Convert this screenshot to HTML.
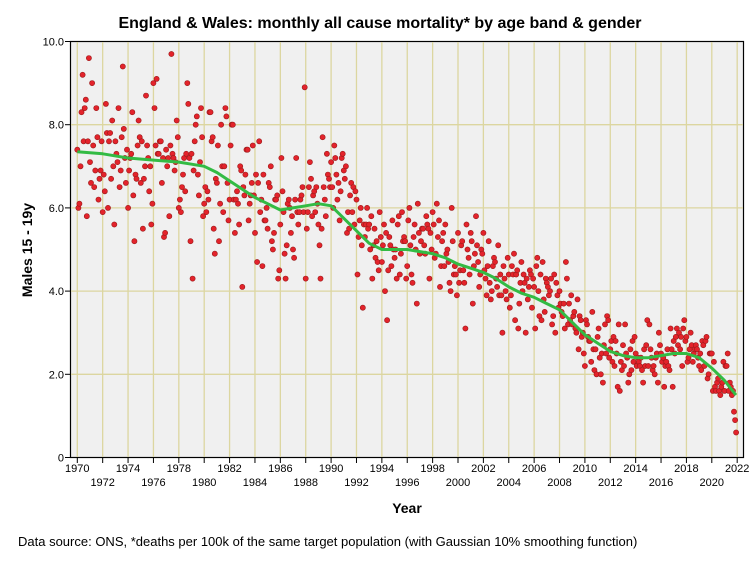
<!DOCTYPE html>
<html><head><meta charset="utf-8"><style>
body{margin:0;background:#fff;}
svg{display:block;font-family:"Liberation Sans",sans-serif;}
</style></head><body>
<svg id="chart" width="754" height="564" viewBox="0 0 754 564">
<text x="380" y="28" text-anchor="middle" font-size="16" font-weight="bold">England &amp; Wales: monthly all cause mortality* by age band &amp; gender</text>
<rect x="70.5" y="41.5" width="673" height="416" fill="#f0f0f0" stroke="#000" stroke-width="1.2"/>
<g id="grid"></g>
<g id="axes"></g>
<g id="points"></g>
<g id="trend"></g>
<text transform="translate(32,250) rotate(-90)" text-anchor="middle" font-size="14" font-weight="bold">Males 15 - 19y</text>
<text x="407" y="513" text-anchor="middle" font-size="14" font-weight="bold">Year</text>
<text x="18" y="546" font-size="13">Data source: ONS, *deaths per 100k of the same target population (with Gaussian 10% smoothing function)</text>
</svg>
<script>
const startYear = 1970;
const monthly = [
7.4,6.0,6.1,7.0,8.3,9.2,7.6,8.4,8.6,5.8,7.6,9.6,
7.1,6.6,9.0,7.5,6.5,6.9,8.4,7.7,6.2,6.7,6.9,7.6,
5.9,6.8,6.4,8.5,7.8,6.0,7.6,7.8,6.7,8.1,7.0,5.6,
7.6,7.3,7.1,8.4,6.5,6.9,7.7,9.4,7.9,7.2,6.6,7.4,
6.0,6.9,7.2,7.3,8.3,6.3,5.2,6.8,6.7,7.5,8.1,7.7,
6.6,7.6,5.5,6.7,7.0,8.7,7.5,7.2,6.4,7.0,5.6,6.1,
9.0,8.4,7.5,9.1,7.3,7.3,7.6,7.6,6.6,7.2,5.3,5.4,
7.4,7.0,7.2,5.8,7.5,9.7,7.3,7.2,6.9,7.1,8.1,7.7,
6.0,6.2,5.9,6.5,6.8,7.2,6.4,7.3,9.0,8.5,7.2,5.2,
7.3,4.3,6.9,7.6,8.0,8.2,6.8,6.3,7.1,8.4,7.7,5.8,
6.1,6.5,5.9,6.4,6.2,8.3,8.3,7.6,7.7,5.5,4.9,6.7,
6.6,7.5,5.2,6.1,8.0,7.0,5.9,7.0,8.4,8.2,6.6,5.7,
6.2,7.5,8.0,8.0,6.2,5.4,6.2,6.4,6.1,5.6,7.0,6.9,
4.1,6.5,6.3,6.8,7.4,7.4,5.7,6.1,6.3,6.6,7.5,6.3,
5.4,6.8,4.7,6.6,7.6,5.9,6.2,4.6,6.8,5.7,5.7,6.0,
5.5,6.6,6.5,7.0,5.2,5.0,5.4,6.2,6.2,6.3,4.3,4.5,
5.6,7.2,6.4,5.9,4.9,4.3,5.1,6.1,6.2,6.0,5.4,5.8,
5.0,4.8,6.2,7.2,5.9,5.6,5.9,6.2,6.3,6.5,5.9,8.9,
4.3,5.5,5.9,6.5,7.1,6.7,5.8,6.3,6.4,5.9,6.5,6.1,
5.6,5.1,4.3,5.5,7.7,6.5,6.2,5.8,7.3,6.8,6.7,6.5,
7.1,6.5,6.0,7.5,7.2,6.8,6.2,6.6,5.7,6.4,7.2,7.3,
6.9,6.7,7.0,5.4,5.9,5.5,6.3,6.6,5.9,6.5,5.6,6.4,
6.2,4.4,5.3,5.7,6.0,5.1,3.6,5.6,5.3,5.6,6.0,5.5,
5.6,5.0,5.8,4.3,5.1,5.5,4.8,5.2,4.7,4.5,5.9,5.3,
4.7,5.1,5.6,4.0,5.4,3.3,4.5,5.3,5.1,4.6,5.7,5.0,
4.8,5.0,4.3,5.6,5.8,4.4,4.9,5.9,5.2,5.3,5.2,4.3,
4.6,5.7,6.0,5.1,4.4,4.2,5.3,5.6,5.0,3.7,6.1,5.4,
4.9,5.2,5.5,5.5,5.1,4.9,5.8,5.6,5.5,4.3,5.4,5.0,
5.9,5.6,4.8,4.9,6.1,5.3,5.7,4.1,4.6,5.2,5.4,4.6,
5.6,4.9,5.0,4.7,4.2,4.0,6.0,5.2,4.4,4.6,4.4,3.9,
5.4,4.2,4.5,5.1,5.2,4.5,4.2,3.1,5.6,5.0,4.8,4.4,
5.4,5.2,3.7,4.6,4.9,5.8,5.1,4.7,4.1,4.4,5.0,4.9,
5.4,4.5,4.3,3.9,4.6,5.2,4.2,3.8,4.0,4.6,4.8,4.7,
4.3,4.1,5.1,3.9,4.4,3.9,3.0,4.6,4.3,4.0,3.8,4.8,
4.4,3.6,3.9,4.6,4.4,4.9,3.3,4.4,4.5,3.1,3.7,4.2,
4.7,4.0,4.4,4.2,3.0,4.3,3.8,4.1,4.5,4.4,3.6,4.3,
4.1,3.1,4.6,4.8,4.0,3.4,4.4,3.3,4.7,3.8,3.5,4.3,
4.2,4.1,3.9,4.0,4.3,3.2,3.4,4.4,3.0,4.2,3.9,3.6,
4.0,3.7,3.5,3.4,3.7,3.1,4.7,4.3,3.2,3.7,3.3,3.9,
3.2,3.4,3.5,3.1,3.0,3.8,2.6,3.4,3.3,2.9,3.0,2.5,
2.2,3.3,3.2,2.9,2.8,2.8,2.3,3.5,2.6,2.1,2.6,2.0,
2.9,3.1,2.4,2.0,2.5,1.8,2.7,3.2,2.5,3.4,3.3,2.4,
2.6,2.8,2.3,2.9,2.2,2.8,2.5,1.7,3.2,1.6,2.3,2.1,
2.7,2.2,3.2,2.5,2.4,1.8,2.0,2.6,2.1,2.8,2.3,2.9,
2.5,2.2,2.4,2.3,2.2,2.4,2.1,1.8,2.6,2.2,2.7,3.3,
2.2,3.2,2.6,2.4,2.1,2.2,2.0,2.4,2.5,1.8,3.0,2.7,
2.5,2.3,2.4,1.7,2.2,2.3,2.6,2.2,2.1,3.1,2.6,1.7,
2.8,2.5,2.9,3.1,2.7,3.0,2.6,2.9,2.2,3.1,3.3,2.8,
2.9,2.3,2.4,2.6,3.0,2.7,2.3,2.5,2.6,2.7,2.6,2.4,
2.2,2.5,2.1,2.8,2.7,2.2,2.8,2.9,1.9,2.0,2.5,2.5,
2.5,1.6,2.3,1.7,1.6,1.8,1.9,1.6,1.5,1.7,1.8,2.3,
1.6,2.2,2.2,2.5,1.6,1.8,1.7,1.5,1.6,1.1,0.9,0.6
];
const trendYears = [1970,1972,1974,1976,1978,1979,1980,1981,1982,1983,1984,1985,1986,1987,1988,1989,1990,1991,1992,1993,1994,1995,1996,1997,1998,1999,2000,2001,2002,2003,2004,2005,2006,2007,2008,2009,2010,2011,2012,2013,2014,2015,2016,2017,2018,2019,2020,2021,2021.9];
const trendValues = [7.35,7.3,7.2,7.15,7.1,7.05,7.0,6.85,6.65,6.45,6.25,6.1,5.95,6.0,6.05,6.1,6.05,5.75,5.45,5.15,5.0,5.0,5.0,4.95,4.9,4.8,4.65,4.55,4.45,4.3,4.1,3.95,3.85,3.7,3.55,3.25,2.95,2.75,2.55,2.45,2.4,2.4,2.45,2.5,2.5,2.4,2.15,1.85,1.5];
const yTicks = [0,2,4,6,8,10];
const yTickLabels = ["0","2.0","4.0","6.0","8.0","10.0"];
const xTickYears = [1970,1972,1974,1976,1978,1980,1982,1984,1986,1988,1990,1992,1994,1996,1998,2000,2002,2004,2006,2008,2010,2012,2014,2016,2018,2020,2022];

const NS="http://www.w3.org/2000/svg";
function X(yr){return 77.3+(yr-1970)*12.69;}
function Y(v){return 457.5-v*41.6;}
function mk(tag,attrs,parent){const e=document.createElementNS(NS,tag);for(const k in attrs)e.setAttribute(k,attrs[k]);parent.appendChild(e);return e;}
const grid=document.getElementById('grid'),axes=document.getElementById('axes'),pts=document.getElementById('points'),tr=document.getElementById('trend');
yTicks.forEach((v,i)=>{
  if(v>0&&v<10){const l=mk('line',{x1:71,x2:743,y1:Y(v),y2:Y(v),stroke:'#dcd6a0','stroke-width':1.3},grid);
  
  }
  const t=mk('line',{x1:65,x2:70.5,y1:Y(v),y2:Y(v),stroke:'#000'},axes);
  
  
  const tx=mk('text',{x:64,y:Y(v)+4,'text-anchor':'end','font-size':11},axes);tx.textContent=yTickLabels[i];
  
  
});
xTickYears.forEach((yr,i)=>{
  const l=mk('line',{x1:X(yr),x2:X(yr),y1:42,y2:457,stroke:'#dcd6a0','stroke-width':1.3},grid);
  
  
  const t=mk('line',{x1:X(yr),x2:X(yr),y1:457.5,y2:463,stroke:'#000'},axes);
  
  
  const tx=mk('text',{x:X(yr),y:(i%2===0)?472:486,'text-anchor':'middle','font-size':11},axes);tx.textContent=yr;
  
  
});
monthly.forEach((v,i)=>{
  const yr=startYear+i/12;
  const c=mk('circle',{cx:X(yr).toFixed(1),cy:Y(v).toFixed(1),r:2.6,fill:'#e3232b',stroke:'#9a1a1a','stroke-width':0.6},pts);
  
  
});
const d=trendYears.map((yr,i)=>(i?'L':'M')+X(yr).toFixed(1)+','+Y(trendValues[i]).toFixed(1)).join(' ');
const p=mk('path',{d:d,fill:'none',stroke:'#33bb44','stroke-width':3,'stroke-linejoin':'round'},tr);


</script>
</body></html>
